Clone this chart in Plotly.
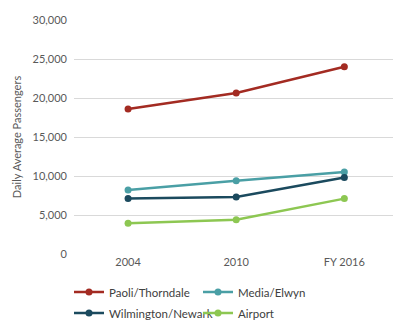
import plotly.graph_objects as go

years = ["2004", "2010", "FY 2016"]
paoli = [18600, 20650, 24000]
media = [8200, 9400, 10500]
wilmington = [7100, 7300, 9800]
airport = [3950, 4400, 7100]

series = [
    ("Paoli/Thorndale", paoli, "#A32B22", "legend"),
    ("Media/Elwyn", media, "#4A9FA5", "legend"),
    ("Wilmington/Newark", wilmington, "#1B4A5E", "legend2"),
    ("Airport", airport, "#8DC752", "legend2"),
]

fig = go.Figure()
for name, vals, color, lg in series:
    fig.add_trace(go.Scatter(
        x=years, y=vals, name=name, mode="lines+markers",
        line=dict(color=color, width=2.5),
        marker=dict(color=color, size=7),
        legend=lg,
    ))

font = dict(family="Lato, Open Sans, sans-serif", size=11, color="#595959")
legend_common = dict(
    orientation="h", xref="container", yref="container",
    x=69/393, xanchor="left", yanchor="middle",
    entrywidth=84, entrywidthmode="pixels",
    font=dict(family="Lato, Open Sans, sans-serif", size=11.5, color="#404040"),
    bgcolor="rgba(0,0,0,0)", itemwidth=30,
)

fig.update_layout(
    width=393, height=324,
    margin=dict(l=74, r=0, t=20, b=70, autoexpand=False),
    paper_bgcolor="white", plot_bgcolor="white",
    font=font,
    showlegend=True,
    legend=dict(**legend_common, y=1 - 292/324),
    legend2=dict(**legend_common, y=1 - 313/324),
    xaxis=dict(
        type="category", range=[-0.5, 2.45],
        showgrid=False, showline=False, zeroline=False,
        ticks="", tickfont=font,
    ),
    yaxis=dict(
        range=[0, 30000], dtick=5000, tickformat=",",
        showgrid=True, gridcolor="#D9D9D9", gridwidth=1,
        zeroline=False, showline=False, ticks="",
        tickfont=font, ticklabelstandoff=6,
        title=dict(text="Daily Average Passengers", font=dict(family="Lato, Open Sans, sans-serif", size=11, color="#595959"), standoff=8),
    ),
)

fig.write_html("out.html", config={"displayModeBar": False},
               post_script="document.body.style.margin='0';document.body.style.overflow='hidden';")
